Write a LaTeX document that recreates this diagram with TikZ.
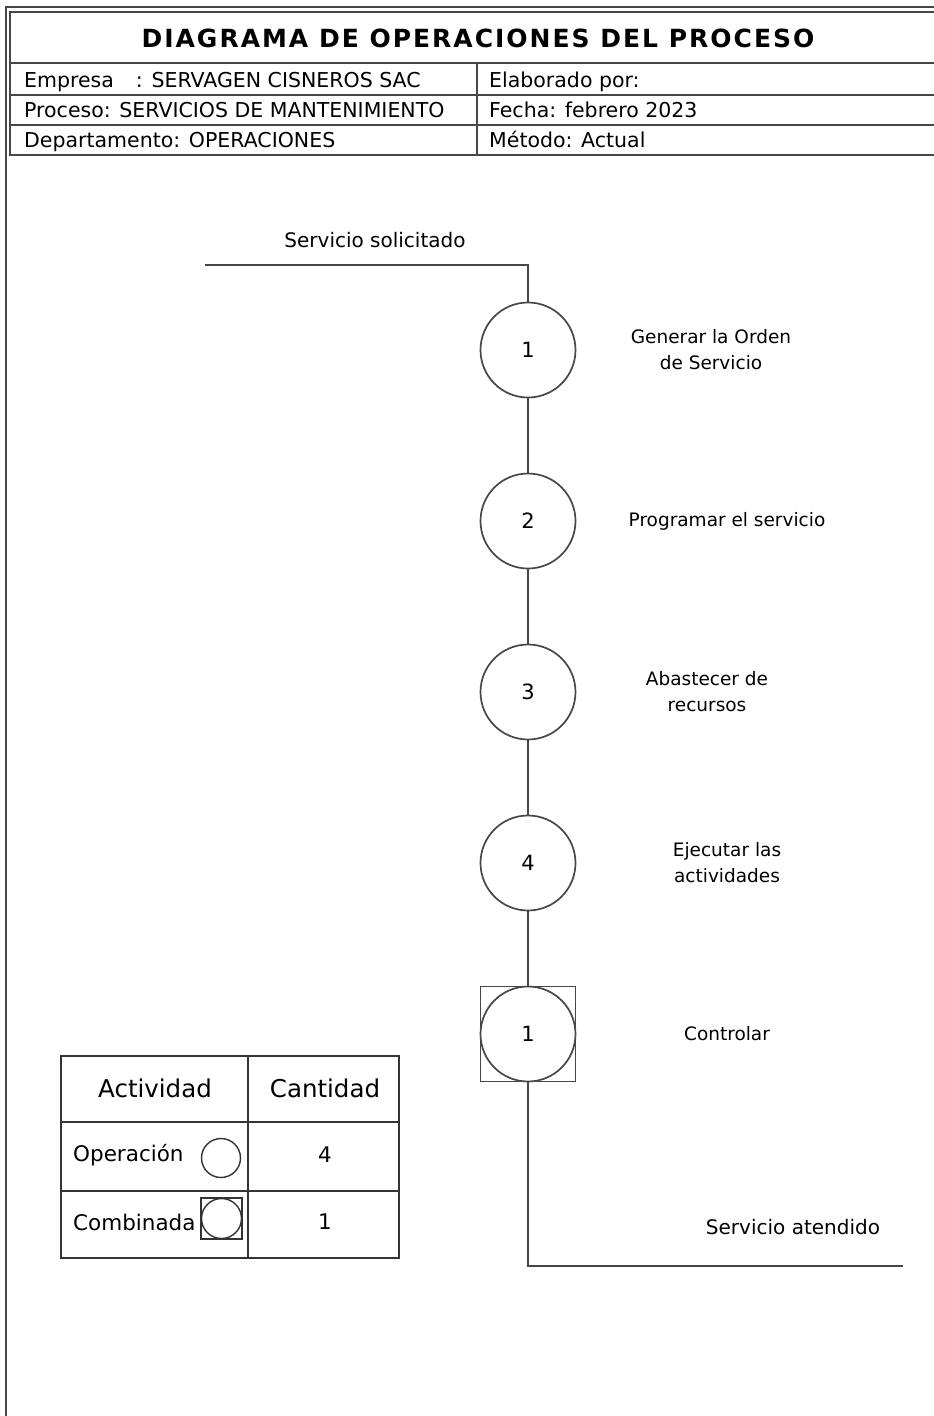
\documentclass[tikz,border=0pt]{standalone}
\usepackage{fontspec}
\setmainfont{DejaVu Sans}
\newfontfamily\titlefont[LetterSpace=8]{DejaVu Sans}
\begin{document}
\begin{tikzpicture}[x=1pt,y=-1pt,
  ln/.style={line width=1.7pt,draw=black!72},
  thin ln/.style={line width=1.4pt,draw=black!80},
  op/.style={circle,ln,minimum size=95pt,inner sep=0pt,font=\fontsize{21}{24}\selectfont},
  sqbox/.style={rectangle,ln,minimum size=95pt,inner sep=0pt},
  lbl/.style={align=center,font=\fontsize{18.5}{26}\selectfont},
  endlbl/.style={font=\fontsize{20}{24}\selectfont},
  hd/.style={anchor=base west,inner sep=0pt,font=\fontsize{20.5}{24}\selectfont},
  legtxt/.style={font=\fontsize{21.5}{24}\selectfont},
  leghd/.style={font=\fontsize{24.5}{28}\selectfont},
]
\useasboundingbox (0,0) rectangle (934,1416);

% outer frame
\draw[ln] (6,1416) -- (6,7) -- (934,7);

% header block
\draw[ln] (934,12) -- (10,12) -- (10,155) -- (934,155);
\draw[ln] (10,63) -- (934,63);
\draw[ln] (10,95) -- (934,95);
\draw[ln] (10,125) -- (934,125);
\draw[ln] (477,63) -- (477,155);

\node[font=\fontsize{25}{28}\titlefont\bfseries] (title) at (478,38) {DIAGRAMA DE OPERACIONES DEL PROCESO};
\node[hd] (emp) at (24,87) {Empresa\hspace{22pt}: SERVAGEN CISNEROS SAC};
\node[hd] (proc) at (24,117) {Proceso: SERVICIOS DE MANTENIMIENTO};
\node[hd] (dep) at (24,147) {Departamento: OPERACIONES};
\node[hd] (elab) at (489,87) {Elaborado por:};
\node[hd] (fecha) at (489,117) {Fecha: febrero 2023};
\node[hd] (met) at (489,147) {Método: Actual};

% process chart
\coordinate (start) at (205,265);
\coordinate (startc) at (528,265);
\node[op] (c1) at (528,350) {1};
\node[op] (c2) at (528,521) {2};
\node[op] (c3) at (528,692) {3};
\node[op] (c4) at (528,863) {4};
\node[sqbox] (k1) at (528,1034) {};
\node[op] (c5) at (528,1034) {1};
\coordinate (endc) at (528,1266);
\coordinate (finish) at (903,1266);

\draw[ln] (start) -- (startc) -- (c1);
\draw[ln] (c1) -- (c2);
\draw[ln] (c2) -- (c3);
\draw[ln] (c3) -- (c4);
\draw[ln] (c4) -- (k1);
\draw[ln] (k1) -- (endc) -- (finish);

\node[endlbl] (tstart) at (375,240) {Servicio solicitado};
\node[lbl] (t1) at (711,350) {Generar la Orden\\de Servicio};
\node[lbl] (t2) at (727,521) {Programar el servicio};
\node[lbl] (t3) at (707,692) {Abastecer de\\recursos};
\node[lbl] (t4) at (727,863) {Ejecutar las\\actividades};
\node[lbl] (t5) at (727,1034) {Controlar};
\node[endlbl] (tend) at (793,1227) {Servicio atendido};

% summary table
\draw[thin ln] (61,1056) rectangle (399,1258);
\draw[thin ln] (248,1056) -- (248,1258);
\draw[thin ln] (61,1122) -- (399,1122);
\draw[thin ln] (61,1191) -- (399,1191);
\node[leghd] (hact) at (155,1088) {Actividad};
\node[leghd] (hcant) at (325,1088) {Cantidad};
\node[legtxt,anchor=west,inner sep=0pt] (lop) at (73,1155) {Operación};
\node[legtxt] (nop) at (325,1155) {4};
\node[legtxt,anchor=west,inner sep=0pt] (lcomb) at (73,1222) {Combinada};
\node[legtxt] (ncomb) at (325,1222) {1};
\node[circle,thin ln,minimum size=39pt,inner sep=0pt] (iop) at (221,1158) {};
\node[rectangle,thin ln,minimum size=41pt,inner sep=0pt] (icsq) at (221.5,1218.5) {};
\node[circle,thin ln,minimum size=40pt,inner sep=0pt] (iccir) at (221.5,1218.5) {};
\end{tikzpicture}
\end{document}
